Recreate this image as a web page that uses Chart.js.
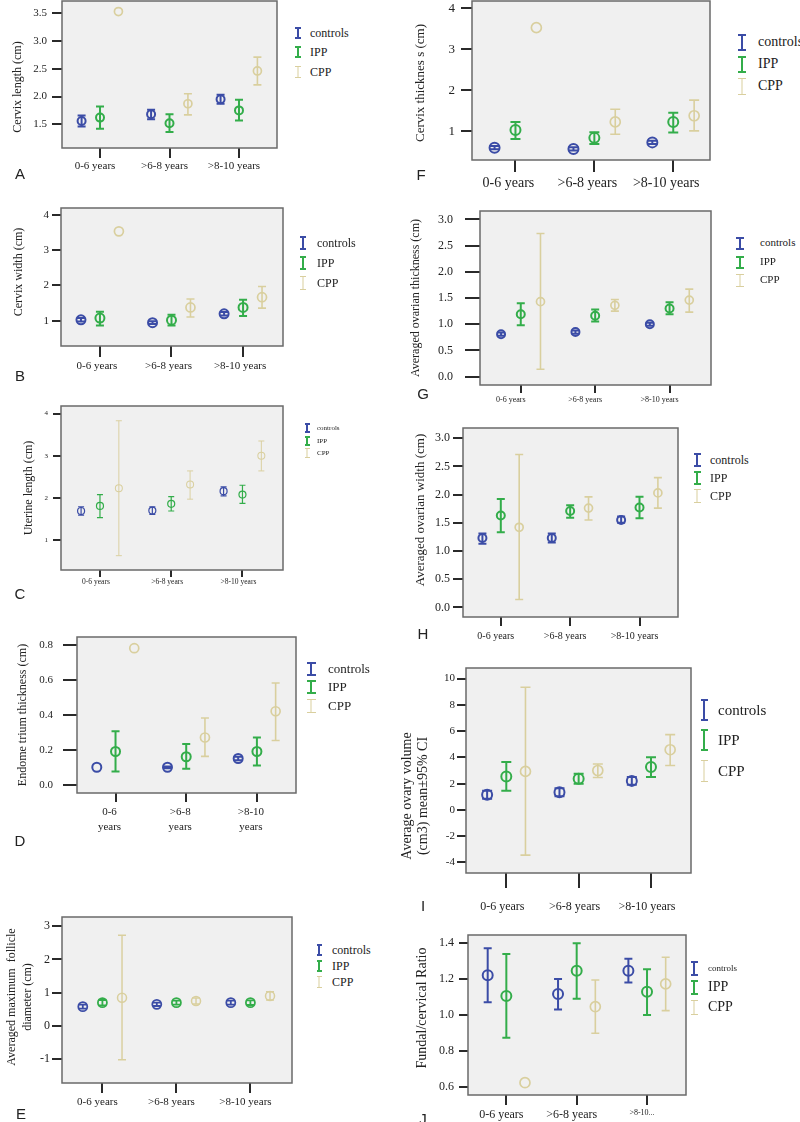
<!DOCTYPE html>
<html><head><meta charset="utf-8">
<script src="https://cdn.jsdelivr.net/npm/chart.js@4.4.1/dist/chart.umd.min.js"></script>
<style>
html,body{margin:0;padding:0;background:#fff}
body{width:800px;height:1122px;position:relative;overflow:hidden;font-family:"Liberation Serif","Times New Roman",serif;color:#222}
canvas{position:absolute}
.t{position:absolute;white-space:pre;line-height:1.2;color:#222}
.yt{transform:translate(-50%,-50%) rotate(-90deg);text-align:center}
.lt{transform:translateY(-50%)}
.ic{position:absolute;box-sizing:border-box;border-top-style:solid;border-bottom-style:solid}
.ic i{position:absolute;left:50%;top:0;bottom:0;transform:translateX(-50%)}
.pl{position:absolute;font-family:"Liberation Sans",Arial,sans-serif;font-size:15px;transform:translate(-50%,-50%);color:#222}
</style></head>
<body>
<script>
// ---------- DATA ----------
const categories = ['0-6 years', '>6-8 years', '>8-10 years'];
const seriesNames = ['controls', 'IPP', 'CPP'];

// A. Cervix length (cm)  [controls], [IPP], [CPP] ; values per age group
const cervixLengthMean  = [[1.56, 1.68, 1.95], [1.62, 1.52, 1.75], [3.53, 1.87, 2.46]];
const cervixLengthLower = [[1.46, 1.59, 1.87], [1.42, 1.36, 1.57], [null, 1.67, 2.21]];
const cervixLengthUpper = [[1.66, 1.76, 2.03], [1.82, 1.68, 1.94], [null, 2.05, 2.71]];
const cervixLengthTicks = [1.5, 2.0, 2.5, 3.0, 3.5];

// F. Cervix thickness (cm)
const cervixThickMean  = [[0.60, 0.57, 0.73], [1.03, 0.84, 1.23], [3.53, 1.23, 1.38]];
const cervixThickLower = [[0.56, 0.53, 0.69], [0.81, 0.69, 0.97], [null, 0.93, 1.01]];
const cervixThickUpper = [[0.64, 0.61, 0.77], [1.23, 0.98, 1.45], [null, 1.54, 1.76]];
const cervixThickTicks = [1, 2, 3, 4];

// B. Cervix width (cm)
const cervixWidthMean  = [[1.03, 0.95, 1.20], [1.08, 1.02, 1.38], [3.53, 1.38, 1.67]];
const cervixWidthLower = [[0.98, 0.91, 1.15], [0.87, 0.87, 1.14], [null, 1.11, 1.36]];
const cervixWidthUpper = [[1.08, 0.99, 1.25], [1.26, 1.17, 1.60], [null, 1.62, 1.97]];
const cervixWidthTicks = [1, 2, 3, 4];

// G. Averaged ovarian thickness (cm)
const ovThickMean  = [[0.81, 0.85, 1.00], [1.19, 1.16, 1.30], [1.43, 1.36, 1.46]];
const ovThickLower = [[0.78, 0.82, 0.97], [0.98, 1.05, 1.19], [0.14, 1.25, 1.23]];
const ovThickUpper = [[0.84, 0.88, 1.03], [1.40, 1.28, 1.42], [2.73, 1.47, 1.67]];
const ovThickTicks = [0.0, 0.5, 1.0, 1.5, 2.0, 2.5, 3.0];

// C. Uterine length (cm)
const uterLenMean  = [[1.69, 1.70, 2.16], [1.81, 1.86, 2.08], [2.23, 2.32, 3.00]];
const uterLenLower = [[1.59, 1.61, 2.05], [1.53, 1.69, 1.87], [0.63, 1.97, 2.64]];
const uterLenUpper = [[1.79, 1.79, 2.26], [2.08, 2.03, 2.30], [3.83, 2.64, 3.35]];
const uterLenTicks = [1, 2, 3, 4];

// H. Averaged ovarian width (cm)
const ovWidthMean  = [[1.23, 1.23, 1.55], [1.63, 1.71, 1.77], [1.42, 1.76, 2.03]];
const ovWidthLower = [[1.13, 1.15, 1.50], [1.33, 1.59, 1.58], [0.14, 1.55, 1.76]];
const ovWidthUpper = [[1.31, 1.31, 1.61], [1.92, 1.81, 1.96], [2.71, 1.96, 2.30]];
const ovWidthTicks = [0.0, 0.5, 1.0, 1.5, 2.0, 2.5, 3.0];

// D. Endometrium thickness (cm)
const endoMean  = [[0.10, 0.10, 0.15], [0.19, 0.16, 0.19], [0.78, 0.27, 0.42]];
const endoLower = [[null, 0.095, 0.14], [0.076, 0.091, 0.11], [null, 0.162, 0.253]];
const endoUpper = [[null, 0.105, 0.16], [0.305, 0.233, 0.27], [null, 0.381, 0.581]];
const endoTicks = [0.0, 0.2, 0.4, 0.6, 0.8];
const endoXLabels = [['0-6', 'years'], ['>6-8', 'years'], ['>8-10', 'years']];

// I. Average ovary volume (cm3)
const ovVolMean  = [[1.15, 1.35, 2.21], [2.54, 2.37, 3.26], [2.93, 3.00, 4.58]];
const ovVolLower = [[0.85, 1.05, 1.91], [1.45, 2.00, 2.50], [-3.44, 2.47, 3.38]];
const ovVolUpper = [[1.45, 1.65, 2.51], [3.64, 2.75, 4.00], [9.34, 3.49, 5.73]];
const ovVolTicks = [-4, -2, 0, 2, 4, 6, 8, 10];

// E. Averaged maximum follicle diameter (cm)
const follMean  = [[0.58, 0.65, 0.70], [0.70, 0.70, 0.70], [0.85, 0.75, 0.90]];
const follLower = [[0.52, 0.60, 0.64], [0.62, 0.64, 0.63], [-1.02, 0.66, 0.78]];
const follUpper = [[0.64, 0.70, 0.76], [0.78, 0.76, 0.77], [2.73, 0.84, 1.03]];
const follTicks = [-1, 0, 1, 2, 3];

// J. Fundal/cervical ratio
const ratioMean  = [[1.22, 1.116, 1.245], [1.105, 1.245, 1.129], [0.625, 1.046, 1.172]];
const ratioLower = [[1.07, 1.03, 1.18], [0.874, 1.09, 1.00], [null, 0.899, 1.024]];
const ratioUpper = [[1.37, 1.20, 1.312], [1.338, 1.397, 1.253], [null, 1.194, 1.32]];
const ratioTicks = [0.6, 0.8, 1.0, 1.2, 1.4];
const ratioXLabels = ['0-6 years', '>6-8 years', '>8-10...'];

// ---------- STYLE / LAYOUT ----------
const seriesColors = ['#3b4ca6', '#33ad4a', '#d9cf9e'];
const groupOffsets = [-0.265, 0, 0.265];
const FONT = '"Liberation Serif", "Times New Roman", serif';

const panels = [
 {letter:'A', mean:cervixLengthMean, lower:cervixLengthLower, upper:cervixLengthUpper, yTicks:cervixLengthTicks, dec:1, xLabels:categories,
  yTitle:'Cervix length (cm)', box:[62,1,277,148], xr:[-0.547,2.547], yr:[1.073,3.72],
  xfs:11, yfs:11, tlx:10, tly:10, padx:2, pady:5, loff:-5, r:4, lw:2, cap:4,
  title:{x:17,y:87,fs:12}, leg:{x:298, ys:[33,52,72], tx:310, fs:[12,12,12], w:6, h:12}, pl:{x:20,y:173}},
 {letter:'F', mean:cervixThickMean, lower:cervixThickLower, upper:cervixThickUpper, yTicks:cervixThickTicks, dec:0, xLabels:categories,
  yTitle:'Cervix thicknes s (cm)', box:[472,1,710,160], xr:[-0.551,2.466], yr:[0.3,4.18],
  xfs:14, yfs:13, tlx:12, tly:11, padx:3, pady:6, loff:-7, r:5, lw:2, cap:5,
  title:{x:420,y:83,fs:13}, leg:{x:742, ys:[42,64,86], tx:758, fs:[14,14,14], w:8, h:17}, pl:{x:421,y:174}},
 {letter:'B', mean:cervixWidthMean, lower:cervixWidthLower, upper:cervixWidthUpper, yTicks:cervixWidthTicks, dec:0, xLabels:categories,
  yTitle:'Cervix width (cm)', box:[61,208,283,346], xr:[-0.544,2.558], yr:[0.29,4.19],
  xfs:11, yfs:11, tlx:11, tly:9, padx:3, pady:3, loff:-3, r:4.5, lw:2, cap:4,
  title:{x:18,y:272,fs:12}, leg:{x:303, ys:[243,263,283], tx:317, fs:[12,12,12], w:6, h:14}, pl:{x:20,y:375}},
 {letter:'G', mean:ovThickMean, lower:ovThickLower, upper:ovThickUpper, yTicks:ovThickTicks, dec:1, xLabels:categories,
  yTitle:'Averaged ovarian thickness (cm)', box:[480,211,711,385], xr:[-0.548,2.557], yr:[-0.16,3.16],
  xfs:8, yfs:12, tlx:8, tly:15, padx:2, pady:12, loff:-10, r:4, lw:2, cap:4,
  title:{x:415,y:298,fs:12}, leg:{x:740, ys:[243,262,280], tx:760, fs:[11,11,11], w:8, h:13}, pl:{x:423,y:393}},
 {letter:'C', mean:uterLenMean, lower:uterLenLower, upper:uterLenUpper, yTicks:uterLenTicks, dec:0, xLabels:categories,
  yTitle:'Uterine length (cm)', box:[61,406,283,570], xr:[-0.547,2.569], yr:[0.29,4.18],
  xfs:7.5, yfs:7, tlx:7, tly:8, padx:1, pady:5, loff:-4, r:3.5, lw:1.2, cap:3,
  title:{x:28,y:488,fs:12}, leg:{x:307, ys:[428,441,453], tx:317, fs:[7,7,7], w:5, h:10}, pl:{x:20,y:593}},
 {letter:'H', mean:ovWidthMean, lower:ovWidthLower, upper:ovWidthUpper, yTicks:ovWidthTicks, dec:1, xLabels:categories,
  yTitle:'Averaged ovarian width (cm)', box:[463,428,678,617], xr:[-0.545,2.555], yr:[-0.17,3.18],
  xfs:10, yfs:12, tlx:9, tly:10, padx:4, pady:3, loff:-5, r:4, lw:2, cap:4,
  title:{x:420,y:510,fs:13}, leg:{x:697, ys:[460,478,496], tx:710, fs:[12,12,12], w:7, h:14}, pl:{x:423,y:633}},
 {letter:'D', mean:endoMean, lower:endoLower, upper:endoUpper, yTicks:endoTicks, dec:1, xLabels:endoXLabels,
  yTitle:'Endome trium thickness (cm)', box:[77,637,296,793], xr:[-0.545,2.553], yr:[-0.047,0.844],
  xfs:11, xlh:1.35, yfs:11, tlx:9, tly:14, padx:3, pady:10, loff:-6, r:4.5, lw:2, cap:4,
  title:{x:22,y:715,fs:12}, leg:{x:311, ys:[669,687,706], tx:328, fs:[13,13,13], w:9, h:14}, pl:{x:20,y:840}},
 {letter:'I', mean:ovVolMean, lower:ovVolLower, upper:ovVolUpper, yTicks:ovVolTicks, dec:0, xLabels:categories,
  yTitle:'Average ovary volume\n(cm3) mean\u00b195% CI', box:[466,668,691,873], xr:[-0.557,2.553], yr:[-4.8,10.8],
  xfs:12, yfs:11, tlx:15, tly:9, padx:12, pady:2, loff:-4, r:5, lw:2, cap:5,
  title:{x:415,y:796,fs:14,lh:1.15}, leg:{x:704, ys:[710,740,771], tx:718, fs:[15,15,15], w:7, h:22}, pl:{x:423,y:905}},
 {letter:'E', mean:follMean, lower:follLower, upper:follUpper, yTicks:follTicks, dec:0, xLabels:categories,
  yTitle:'Averaged maximum  follicle\ndiameter (cm)', box:[62,917,292,1083], xr:[-0.546,2.562], yr:[-1.72,3.28],
  xfs:11, yfs:12, tlx:10, tly:10, padx:3, pady:2, loff:-5, r:4.5, lw:1.8, cap:4,
  title:{x:20,y:997,fs:12,lh:1.3}, leg:{x:319, ys:[950,966,982], tx:332, fs:[12,12,12], w:5, h:12}, pl:{x:21,y:1113}},
 {letter:'J', mean:ratioMean, lower:ratioLower, upper:ratioUpper, yTicks:ratioTicks, dec:1, xLabels:ratioXLabels,
  yTitle:'Fundal/cervical Ratio', box:[468,935,686,1095], xr:[-0.545,2.554], yr:[0.557,1.443],
  xfs:12, xfsLast:8, yfs:12, tlx:10, tly:9, padx:3, pady:5, loff:-5, r:5, lw:2, cap:4,
  title:{x:422,y:1008,fs:14}, leg:{x:694, ys:[968,987,1007], tx:708, fs:[9,14,14], w:7, h:15}, pl:{x:423,y:1118}}
];

// ---------- PLUGIN: plot background, error bars, frame ----------
const errorBarPlugin = {
  id: 'errorBars',
  beforeDatasetsDraw(chart) {
    const {ctx, chartArea: a} = chart;
    ctx.save();
    ctx.fillStyle = '#f0f0f0';
    ctx.fillRect(a.left, a.top, a.right - a.left, a.bottom - a.top);
    ctx.restore();
  },
  afterDatasetsDraw(chart) {
    const {ctx, chartArea: a} = chart;
    const xs = chart.scales.x, ys = chart.scales.y;
    ctx.save();
    chart.data.datasets.forEach(ds => {
      ctx.strokeStyle = ds.borderColor;
      ctx.lineWidth = ds.errWidth;
      ds.data.forEach(p => {
        if (p.lo == null || p.hi == null) return;
        const x = xs.getPixelForValue(p.x);
        const y1 = ys.getPixelForValue(p.lo), y2 = ys.getPixelForValue(p.hi);
        ctx.beginPath();
        ctx.moveTo(x, y1); ctx.lineTo(x, y2);
        ctx.moveTo(x - ds.cap, y1); ctx.lineTo(x + ds.cap, y1);
        ctx.moveTo(x - ds.cap, y2); ctx.lineTo(x + ds.cap, y2);
        ctx.stroke();
      });
    });
    ctx.strokeStyle = '#6a6a6a';
    ctx.lineWidth = 1.5;
    ctx.strokeRect(a.left, a.top, a.right - a.left, a.bottom - a.top);
    ctx.restore();
  }
};

function addText(cls, txt, x, y, fs, extra) {
  const d = document.createElement('div');
  d.className = 't ' + cls;
  d.textContent = txt;
  d.style.left = x + 'px'; d.style.top = y + 'px'; d.style.fontSize = fs + 'px';
  if (extra) Object.assign(d.style, extra);
  document.body.appendChild(d);
  return d;
}

function makePanel(p) {
  const [l, t, r, b] = p.box;
  const cx = Math.floor(l) - 60, cy = Math.floor(t) - 22;
  const cw = Math.ceil(r) + 12 - cx, ch = Math.ceil(b) + 50 - cy;
  const cv = document.createElement('canvas');
  cv.width = cw; cv.height = ch;
  Object.assign(cv.style, {left: cx + 'px', top: cy + 'px', width: cw + 'px', height: ch + 'px'});
  document.body.appendChild(cv);
  const yW = l - cx, xH = cy + ch - b, padTop = t - cy, padRight = cx + cw - r;

  const datasets = seriesNames.map((name, s) => ({
    label: name,
    data: p.mean[s].map((m, g) => ({x: g + groupOffsets[s], y: m, lo: p.lower[s][g], hi: p.upper[s][g]})),
    borderColor: seriesColors[s],
    backgroundColor: 'rgba(0,0,0,0)',
    pointRadius: p.r,
    pointBorderWidth: s === 2 ? p.lw * 0.85 : p.lw,
    pointHoverRadius: p.r,
    showLine: false,
    errWidth: s === 2 ? p.lw * 0.8 : p.lw,
    cap: p.cap
  }));

  new Chart(cv, {
    type: 'scatter',
    data: {datasets},
    plugins: [errorBarPlugin],
    options: {
      responsive: false, animation: false, devicePixelRatio: 1, events: [],
      layout: {padding: {top: padTop, right: padRight, left: 0, bottom: 0}},
      plugins: {legend: {display: false}, tooltip: {enabled: false}},
      scales: {
        x: {
          type: 'linear', min: p.xr[0], max: p.xr[1],
          afterBuildTicks: s => { s.ticks = categories.map((c, i) => ({value: i})); },
          afterFit: s => { s.height = xH; },
          ticks: {
            autoSkip: false, maxRotation: 0, minRotation: 0, padding: p.padx, labelOffset: p.loff, color: '#222',
            font: ctx => ({family: FONT, size: (p.xfsLast && ctx.index === 2) ? p.xfsLast : p.xfs, lineHeight: p.xlh || 1.2}),
            callback: (v, i) => p.xLabels[i]
          },
          grid: {drawOnChartArea: false, drawTicks: true, tickLength: p.tlx, color: '#2a2a2a', lineWidth: 2},
          border: {display: false}
        },
        y: {
          type: 'linear', min: p.yr[0], max: p.yr[1],
          afterBuildTicks: s => { s.ticks = p.yTicks.map(v => ({value: v})); },
          afterFit: s => { s.width = yW; },
          ticks: {
            padding: p.pady, color: '#222', font: {family: FONT, size: p.yfs},
            callback: v => Number(v).toFixed(p.dec)
          },
          grid: {drawOnChartArea: false, drawTicks: true, tickLength: p.tly, color: '#2a2a2a', lineWidth: 2},
          border: {display: false}
        }
      }
    }
  });

  // axis title (rotated)
  addText('yt', p.yTitle, p.title.x, p.title.y, p.title.fs, {lineHeight: p.title.lh || 1.2});
  // legend
  seriesNames.forEach((name, s) => {
    const ic = document.createElement('div');
    ic.className = 'ic';
    const bw = s === 2 ? 1.5 : 2;
    Object.assign(ic.style, {
      left: (p.leg.x - p.leg.w / 2) + 'px', top: (p.leg.ys[s] - p.leg.h / 2) + 'px',
      width: p.leg.w + 'px', height: p.leg.h + 'px',
      borderTopWidth: bw + 'px', borderBottomWidth: bw + 'px',
      borderTopColor: seriesColors[s], borderBottomColor: seriesColors[s]
    });
    const bar = document.createElement('i');
    bar.style.borderLeft = bw + 'px solid ' + seriesColors[s];
    ic.appendChild(bar);
    document.body.appendChild(ic);
    addText('lt', name, p.leg.tx, p.leg.ys[s], p.leg.fs[s]);
  });
  // panel letter
  const pl = document.createElement('div');
  pl.className = 'pl'; pl.textContent = p.letter;
  pl.style.left = p.pl.x + 'px'; pl.style.top = p.pl.y + 'px';
  document.body.appendChild(pl);
}

panels.forEach(makePanel);
</script>
</body></html>
